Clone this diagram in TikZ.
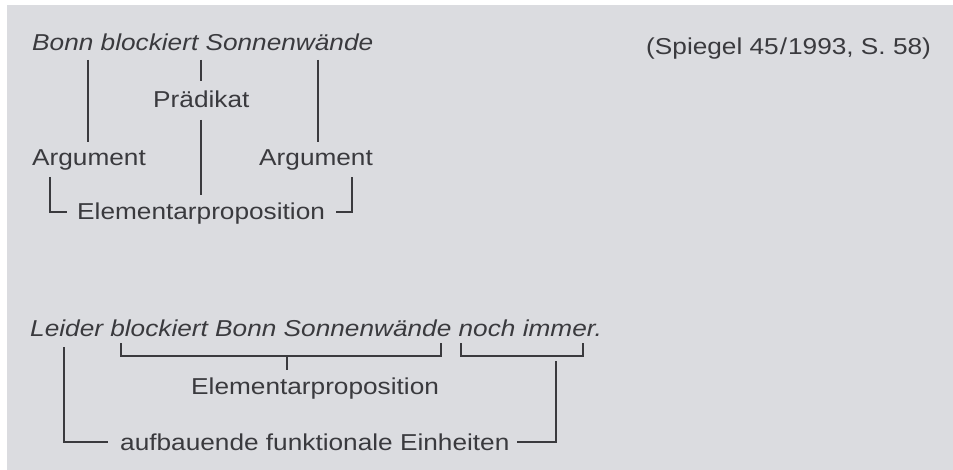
\documentclass[tikz,border=0pt]{standalone}
\usepackage{fontspec}
\setmainfont{Liberation Sans}[FakeStretch=1.14]
\definecolor{bggray}{HTML}{DBDCE0}
\definecolor{ink}{HTML}{3A3A3E}
\begin{document}
\begin{tikzpicture}[x=1pt,y=-1pt,
  txt/.style={anchor=base west,inner sep=0pt,text=ink,font=\fontsize{23}{27}\selectfont},
  ittxt/.style={txt,font=\fontsize{23}{27}\selectfont\itshape},
  conn/.style={draw=ink,line width=2.2pt,line cap=butt,line join=miter}]
\fill[white] (0,0) rectangle (953,470);
\fill[bggray] (7,5) rectangle (953,470);
\useasboundingbox (0,0) rectangle (953,470);
% texts
\node[ittxt] (s1) at (32,51) {Bonn blockiert Sonnenwände};
\node[txt] (src) at (646,55) {(Spiegel 45\kern1pt/\kern1pt1993, S. 58)};
\node[txt] (pred) at (153,108) {Prädikat};
\node[txt] (arg1) at (32,166) {Argument};
\node[txt] (arg2) at (259,166) {Argument};
\node[txt] (ep1) at (77,220) {Elementarproposition};
\node[ittxt] (s2) at (30,337) {Leider blockiert Bonn Sonnenwände noch immer.};
\node[txt] (ep2) at (191,394) {Elementarproposition};
\node[txt] (afe) at (120,450) {aufbauende funktionale Einheiten};
% coordinates
\coordinate (a1t) at (88,60);   \coordinate (a1b) at (88,142);
\coordinate (p0t) at (201,60);  \coordinate (p0b) at (201,81);
\coordinate (p1t) at (201,120); \coordinate (p1b) at (201,195);
\coordinate (a2t) at (318,60);  \coordinate (a2b) at (318,142);
\coordinate (lb1) at (50,177);  \coordinate (lb2) at (50,212); \coordinate (lb3) at (67,212);
\coordinate (rb1) at (336,212); \coordinate (rb2) at (352,212); \coordinate (rb3) at (352,177);
\coordinate (u1a) at (121,343); \coordinate (u1b) at (441,343);
\coordinate (u1m) at (287,356); \coordinate (u1t) at (287,370);
\coordinate (u2a) at (461,343); \coordinate (u2b) at (583,343);
\coordinate (u2m) at (583,356);
\coordinate (bl1) at (64,347);  \coordinate (bl2) at (64,442); \coordinate (bl3) at (108,442);
\coordinate (br1) at (517,442); \coordinate (br2) at (556,442); \coordinate (br3) at (556,361);
% connectors
\draw[conn] (a1t) -- (a1b);
\draw[conn] (p0t) -- (p0b);
\draw[conn] (p1t) -- (p1b);
\draw[conn] (a2t) -- (a2b);
\draw[conn] (lb1) -- (lb2) -- (lb3);
\draw[conn] (rb1) -- (rb2) -- (rb3);
\draw[conn] (u1a) |- (u1m) -| (u1b);
\draw[conn] (u1m) -- (u1t);
\draw[conn] (u2a) |- (u2m) -- (u2b);
\draw[conn] (bl1) -- (bl2) -- (bl3);
\draw[conn] (br1) -- (br2) -- (br3);
\end{tikzpicture}
\end{document}
